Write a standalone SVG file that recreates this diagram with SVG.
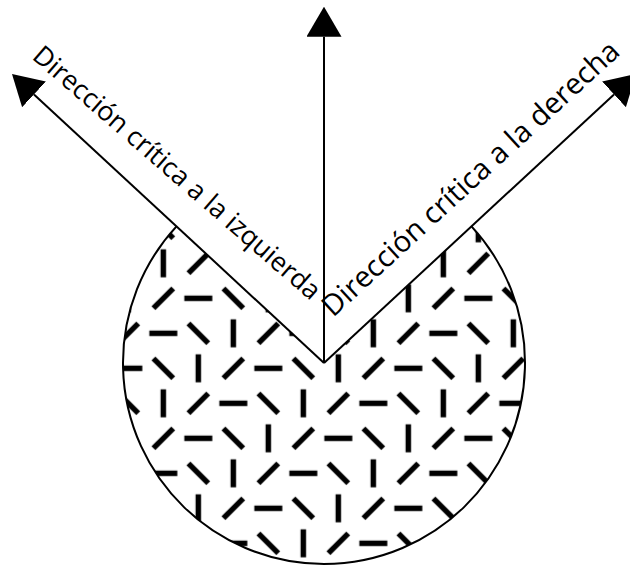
<svg xmlns="http://www.w3.org/2000/svg" width="630" height="570" viewBox="0 0 630 570">
  <style>
    .axis { stroke: #000; stroke-width: 2; fill: none; }
    .lbl { font-family: "Open Sans", "Noto Sans", sans-serif; font-size: 28px; fill: #000; }
  </style>
  <defs>
    <marker id="ah" viewBox="0 -17.5 30 35" markerWidth="30" markerHeight="35" refX="0" refY="0" orient="auto" markerUnits="userSpaceOnUse">
      <path d="M0,-17.5 L30,0 L0,17.5 Z" fill="#000"/>
    </marker>
    <rect id="d" x="-14" y="-2.75" width="28" height="5.5" fill="#000"/>
    <pattern id="hatch" patternUnits="userSpaceOnUse" x="5.83" y="105.83" width="140" height="140">
      <use href="#d" transform="translate(17.5,17.5) rotate(90)"/>
      <use href="#d" transform="translate(52.5,17.5) rotate(-45)"/>
      <use href="#d" transform="translate(87.5,17.5)"/>
      <use href="#d" transform="translate(122.5,17.5) rotate(45)"/>
      <use href="#d" transform="translate(17.5,52.5) rotate(-45)"/>
      <use href="#d" transform="translate(52.5,52.5)"/>
      <use href="#d" transform="translate(87.5,52.5) rotate(45)"/>
      <use href="#d" transform="translate(122.5,52.5) rotate(90)"/>
      <use href="#d" transform="translate(17.5,87.5)"/>
      <use href="#d" transform="translate(52.5,87.5) rotate(45)"/>
      <use href="#d" transform="translate(87.5,87.5) rotate(90)"/>
      <use href="#d" transform="translate(122.5,87.5) rotate(-45)"/>
      <use href="#d" transform="translate(17.5,122.5) rotate(45)"/>
      <use href="#d" transform="translate(52.5,122.5) rotate(90)"/>
      <use href="#d" transform="translate(87.5,122.5) rotate(-45)"/>
      <use href="#d" transform="translate(122.5,122.5)"/>
    </pattern>
  </defs>
  <g id="region">
    <path d="M324,363 L176.5,226.4 A201,201 0 1 0 471.5,226.4 Z" fill="url(#hatch)" stroke="none"/>
    <path d="M176.5,226.4 A201,201 0 1 0 471.5,226.4" class="axis"/>
  </g>
  <g id="connectors">
    <line class="axis" x1="324" y1="363" x2="324" y2="36.7" marker-end="url(#ah)"/>
    <line class="axis" x1="324" y1="363" x2="34" y2="94.4" marker-end="url(#ah)"/>
    <line class="axis" x1="324" y1="363" x2="614" y2="94.4" marker-end="url(#ah)"/>
  </g>
  <g id="label-left">
    <text class="lbl" style="font-size:26.7px" transform="translate(31,58) rotate(41)">Dirección crítica a la izquierda</text>
  </g>
  <g id="label-right">
    <text class="lbl" style="font-size:29.3px" transform="translate(333,318) rotate(-42.5)">Dirección crítica a la derecha</text>
  </g>
</svg>
